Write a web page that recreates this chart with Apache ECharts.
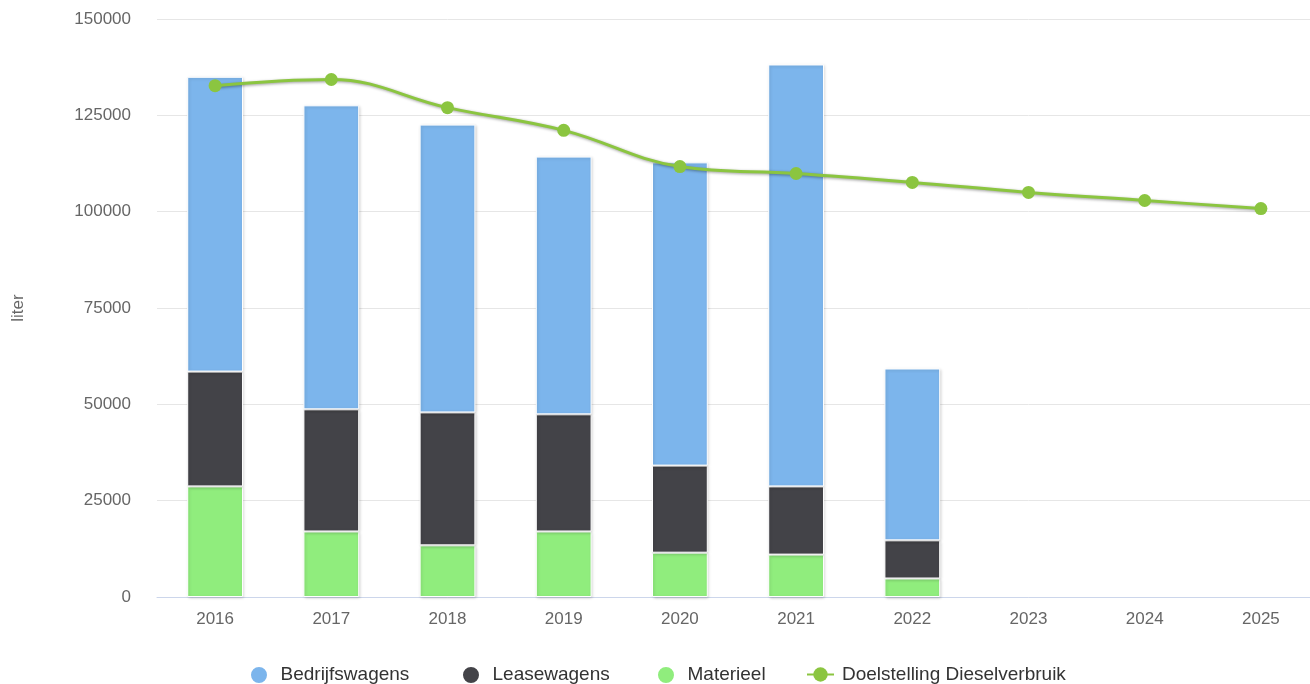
<!DOCTYPE html>
<html>
<head>
<meta charset="utf-8">
<script src="https://cdn.jsdelivr.net/npm/echarts@6/dist/echarts.min.js"></script>
<style>
html,body{margin:0;padding:0;background:#fff;overflow:hidden;}
#c{width:1319px;height:684px;}
</style>
</head>
<body>
<div id="c"></div>
<script>
const categories = ['2016','2017','2018','2019','2020','2021','2022','2023','2024','2025'];
const bedrijfswagens = [76500, 78900, 74700, 66900, 78700, 109500, 44600, null, null, null];
const leasewagens   = [29800, 31700, 34500, 30400, 22600, 17700, 9900, null, null, null];
const materieel     = [28700, 17000, 13400, 17000, 11500, 11000, 4800, null, null, null];
const doelstelling  = [132700, 134300, 127000, 121100, 111700, 109900, 107600, 105000, 102900, 100800];

const font = '"Liberation Sans", Arial, sans-serif';
const barStyle = (c) => ({
  color: c,
  borderColor: '#ffffff',
  borderWidth: 1,
  shadowColor: 'rgba(0,0,0,0.18)',
  shadowBlur: 3,
  shadowOffsetX: 1,
  shadowOffsetY: 1
});

const legendItem = (left, item) => ({
  top: 660,
  left: left,
  itemWidth: 27,
  itemHeight: 18,
  textStyle: {fontSize: 19, color: '#333333', fontFamily: font, padding: [0, 0, 0, 3]},
  data: [item]
});

const chart = echarts.init(document.getElementById('c'), null, {renderer: 'canvas'});
chart.setOption({
  animation: false,
  textStyle: {fontFamily: font},
  grid: {left: 157, right: 0, top: 19, height: 578, containLabel: false},
  legend: [
    legendItem(244, {name: 'Bedrijfswagens', icon: 'circle'}),
    legendItem(456, {name: 'Leasewagens', icon: 'circle'}),
    legendItem(651, {name: 'Materieel', icon: 'circle'}),
    legendItem(801, {name: 'Doelstelling Dieselverbruik'})
  ],
  xAxis: {
    type: 'category',
    data: categories,
    axisLine: {lineStyle: {color: '#ccd6eb'}},
    axisTick: {show: false},
    axisLabel: {color: '#666666', fontSize: 17, margin: 14, fontFamily: font}
  },
  yAxis: {
    type: 'value',
    min: 0,
    max: 150000,
    interval: 25000,
    name: 'liter',
    nameLocation: 'middle',
    nameGap: 130,
    nameTextStyle: {color: '#666666', fontSize: 17, fontFamily: font},
    axisLine: {show: false},
    axisTick: {show: false},
    axisLabel: {color: '#666666', fontSize: 17, margin: 26, fontFamily: font, formatter: (v) => String(v)},
    splitLine: {lineStyle: {color: '#e6e6e6'}}
  },
  series: [
    {name: 'Materieel', type: 'bar', stack: 'a', data: materieel, barWidth: '48%', itemStyle: barStyle('#90ed7d')},
    {name: 'Leasewagens', type: 'bar', stack: 'a', data: leasewagens, barWidth: '48%', itemStyle: barStyle('#434348')},
    {name: 'Bedrijfswagens', type: 'bar', stack: 'a', data: bedrijfswagens, barWidth: '48%', itemStyle: barStyle('#7cb5ec')},
    {
      name: 'Doelstelling Dieselverbruik', type: 'line', data: doelstelling, smooth: 0.4,
      symbol: 'circle', symbolSize: 13, z: 5,
      itemStyle: {color: '#8bc540'},
      lineStyle: {width: 3, color: '#8bc540', shadowColor: 'rgba(0,0,0,0.4)', shadowBlur: 3, shadowOffsetX: 1, shadowOffsetY: 1}
    }
  ]
});
</script>
</body>
</html>
